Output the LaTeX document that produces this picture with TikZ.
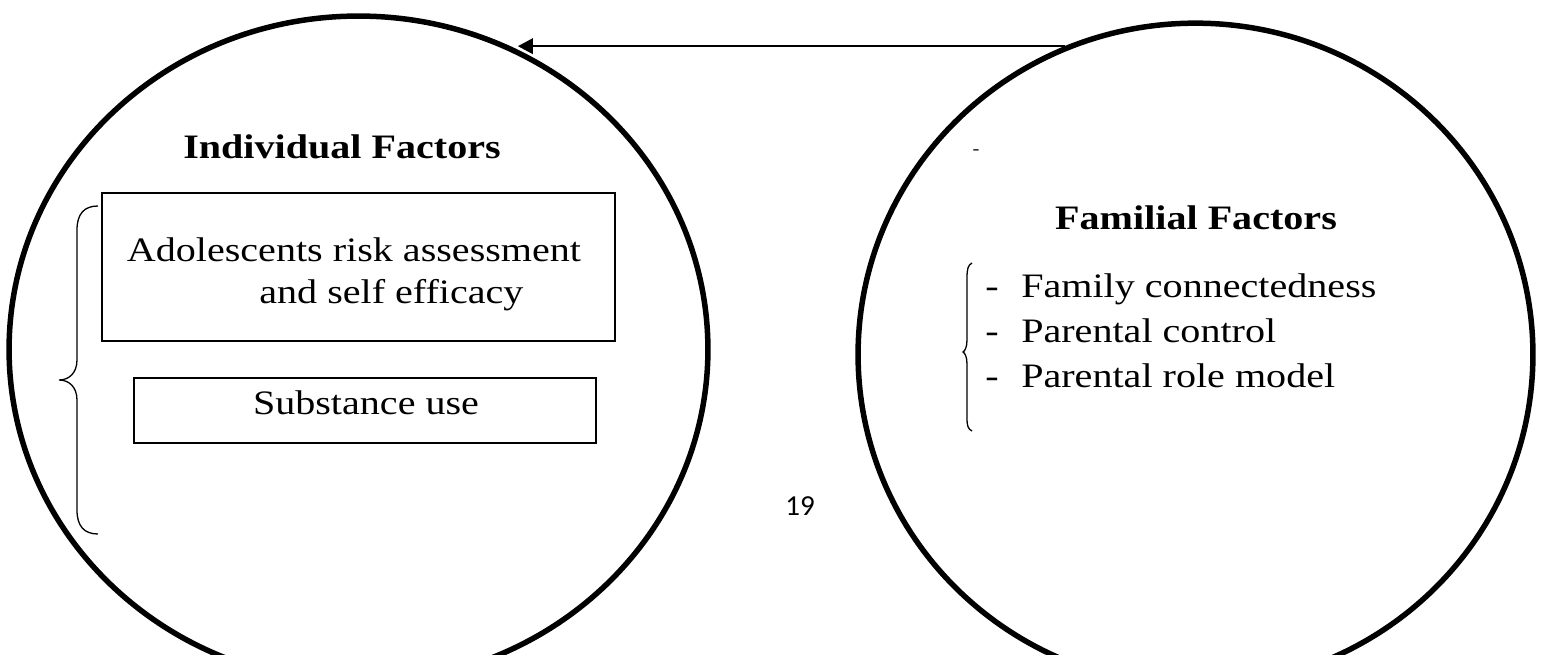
\documentclass[tikz,border=0pt]{standalone}
\usepackage{fontspec}
\setmainfont{Liberation Serif}[FakeStretch=1.17]
\newfontfamily\pagenofont{Carlito}
\usetikzlibrary{arrows.meta}
\usetikzlibrary{shapes.geometric}

\tikzset{
  factor/.style={draw,ellipse,line width=.11cm,inner sep=0pt},
  itembox/.style={draw,rectangle,line width=.04cm,inner sep=0pt},
  lbl/.style={font=\fontsize{19.5}{25.6}\selectfont,inner sep=0pt},
  title/.style={font=\fontsize{19.5}{25.6}\selectfont\bfseries,inner sep=0pt},
  brace/.style={line width=.026cm},
}
\newcommand{\itemdash}{\makebox[.72cm][l]{-}}

\begin{document}
\begin{tikzpicture}[x=.02cm,y=-.02cm]
  \useasboundingbox (0,0) rectangle (1546,655);
  \clip (0,0) rectangle (1546,655);

  \node (ifc) [factor,minimum width=13.98cm,minimum height=13.34cm] at (358.5,349.5) {};
  \node (ffc) [factor,minimum width=13.5cm,minimum height=13.26cm] at (1195.5,354.6) {};
  \draw[line width=.04cm,-{Triangle[length=.3cm,width=.31cm]}]
    (ffc.113) -- (ifc.62 |- ffc.113);

  % left side
  \node (ift) [title,anchor=base] at (342,159) {Individual Factors};
  \node (arb) [itembox,minimum width=10.26cm,minimum height=2.96cm] at (358.5,267) {};
  \node (ara) [lbl,anchor=base] at (354,262) {Adolescents risk assessment};
  \node (sef) [lbl,anchor=base west] at (259,304) {and self efficacy};
  \node (sub) [itembox,minimum width=9.24cm,minimum height=1.3cm] at (365,410.5) {};
  \node (sut) [lbl,anchor=base] at (366,415) {Substance use};
  \draw[brace] (98,206) .. controls (84,206) and (77,214) .. (77,230)
    -- (77,360) .. controls (77,373) and (69,380) .. (59,380)
    .. controls (69,380) and (77,387) .. (77,400)
    -- (77,510) .. controls (77,526) and (84,534) .. (98,534);

  % right side
  \node (dsh) [font=\fontsize{10}{12}\selectfont,inner sep=0pt] at (976,152) {-};
  \node (fft) [title,anchor=base] at (1196,230) {Familial Factors};
  \node (fcn) [lbl,anchor=base west] at (985,298) {\itemdash Family connectedness};
  \node (pco) [lbl,anchor=base west] at (985,343) {\itemdash Parental control};
  \node (prm) [lbl,anchor=base west] at (985,388) {\itemdash Parental role model};
  \draw[brace] (972,263) .. controls (968,265) and (967,269) .. (967,278)
    -- (967,340) .. controls (967,347) and (965,351) .. (963,352)
    .. controls (965,353) and (967,357) .. (967,364)
    -- (967,418) .. controls (967,426) and (968,429) .. (972,431);

  \node (pgn) [font=\pagenofont\fontsize{16.5}{20}\selectfont,inner sep=0pt,anchor=base] at (800,515) {19};
\end{tikzpicture}
\end{document}
